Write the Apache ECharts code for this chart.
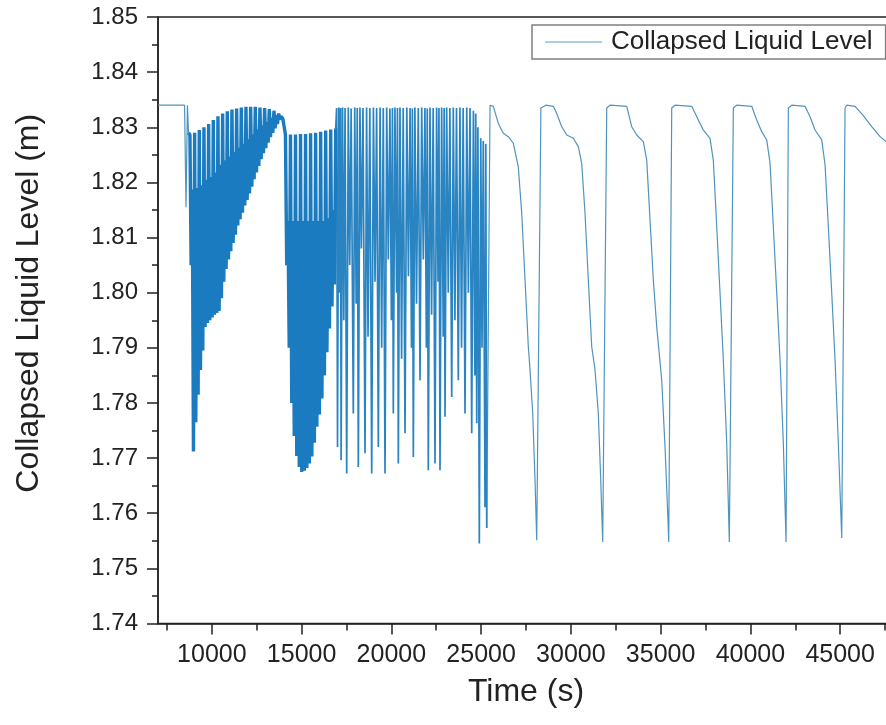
<!DOCTYPE html>
<html><head><meta charset="utf-8">
<script src="https://cdn.jsdelivr.net/npm/echarts@6/dist/echarts.min.js"></script>
<style>html,body{margin:0;padding:0;background:#fff}#c{width:886px;height:725px}</style>
</head><body><div id="c"></div>
<script>
// ---- data (time in s, level in m) ----
const startTime = [7000, 8480, 8560, 8640];
const startLevel = [1.8340, 1.8340, 1.8155, 1.8340];

// where the flat start hands over to the first dense band
const joint0Time = [8700];
const joint0Level = [1.8290];

const band1Time = [8780,8845,8910,8975,9040,9105,9170,9235,9300,9365,9430,9495,9560,9625,9690,9755,9820,9885,9950,10015,
10080,10145,10210,10275,10340,10405,10470,10535,10600,10665,10730,10795,10860,10925,10990,11055,11120,11185,11250,11315,
11380,11445,11510,11575,11640,11705,11770,11835,11900,11965,12030,12095,12160,12225,12290,12355,12420,12485,12550,12615,
12680,12745,12810,12875,12940,13005,13070,13135,13200,13265,13330,13395,13460,13525,13590,13655,13720,13785,13850];
const band1Level = [1.8286,1.8050,1.8187,1.7712,1.8290,1.7765,1.8190,1.7815,1.8295,1.7860,1.8195,1.7895,1.8300,1.7938,1.8205,1.7945,1.8306,1.7950,1.8210,1.7955,
1.8313,1.7960,1.8218,1.7963,1.8320,1.7967,1.8232,1.7990,1.8325,1.8020,1.8240,1.8043,1.8329,1.8060,1.8247,1.8075,1.8332,1.8090,1.8255,1.8105,
1.8334,1.8122,1.8263,1.8133,1.8336,1.8145,1.8270,1.8158,1.8337,1.8168,1.8278,1.8180,1.8337,1.8192,1.8287,1.8206,1.8337,1.8218,1.8296,1.8230,
1.8336,1.8242,1.8303,1.8253,1.8335,1.8262,1.8310,1.8272,1.8333,1.8282,1.8317,1.8290,1.8330,1.8298,1.8322,1.8306,1.8325,1.8314,1.8320];

const bridgeTime = [13950];
const bridgeLevel = [1.8316];

const band2Time = [14100,14170,14240,14310,14380,14450,14520,14590,14660,14730,14800,14870,14940,15010,15080,15150,15220,15290,15360,15430,
15500,15570,15640,15710,15780,15850,15920,15990,16060,16130,16200,16270,16340,16410,16480,16550,16620,16690,16760,16830];
const band2Level = [1.8287,1.8050,1.8130,1.7900,1.8287,1.7800,1.8130,1.7740,1.8287,1.7704,1.8130,1.7684,1.8288,1.7675,1.8130,1.7677,1.8288,1.7682,1.8130,1.7690,
1.8289,1.7703,1.8130,1.7728,1.8290,1.7757,1.8130,1.7779,1.8292,1.7808,1.8130,1.7850,1.8294,1.7892,1.8135,1.7935,1.8296,1.7975,1.8150,1.8015];

// where the banded part hands over to the spiky part
const joint1Time = [16900];
const joint1Level = [1.8298];

const spikeTime = [16950,17000,17070,17120,17170,17200,17280,17350,17420,17512,17600,17680,17760,17880,17960,18040,18100,18159,18250,18330,
18420,18532,18620,18700,18800,18905,19000,19090,19180,19273,19370,19460,19550,19646,19740,19830,19920,20000,20060,20108,
20200,20290,20340,20387,20480,20570,20660,20760,20860,20950,21040,21120,21170,21223,21310,21400,21500,21596,21690,21780,
21870,21950,22000,22058,22150,22240,22330,22431,22520,22600,22650,22710,22800,22890,22940,22989,23080,23170,23260,23362,
23450,23540,23630,23729,23820,23910,24000,24103,24200,24290,24380,24476,24570,24650,24700,24755,24820,24900,24980,25050,
25120,25217,25260];
const spikeLevel = [1.8335,1.7720,1.8336,1.8000,1.8335,1.7696,1.8336,1.7950,1.8335,1.7672,1.8336,1.8050,1.8334,1.7781,1.8336,1.7980,1.8335,1.7684,1.8336,1.8080,
1.8335,1.7709,1.8336,1.7920,1.8335,1.7672,1.8336,1.8020,1.8335,1.7720,1.8336,1.7900,1.8335,1.7672,1.8336,1.8060,1.8334,1.7950,1.8335,1.7781,
1.8336,1.8000,1.8335,1.7690,1.8336,1.7880,1.8335,1.7745,1.8336,1.8030,1.8335,1.7900,1.8334,1.7702,1.8336,1.7980,1.8335,1.7841,1.8336,1.8060,
1.8335,1.7900,1.8334,1.7678,1.8336,1.7960,1.8335,1.7690,1.8336,1.8020,1.8335,1.7678,1.8336,1.7920,1.8335,1.7775,1.8336,1.8000,1.8335,1.7811,
1.8336,1.7950,1.8335,1.7841,1.8336,1.7900,1.8335,1.7781,1.8336,1.8000,1.8335,1.7745,1.8330,1.7850,1.8325,1.7763,1.8300,1.7545,1.8280,1.7900,
1.8275,1.7611,1.8270];

// the last deep dip, where the spiky record turns into the regular cycles
const joint2Time = [25312];
const joint2Level = [1.7573];

const cycleTime = [25496,25680,25958,26237,26515,26794,27072,27262,27446,27630,27724,27874,28003,28097,28200,
28330,28615,29022,29212,29490,29769,30137,30415,30604,30788,30972,31161,31345,31529,31663,31774,31847,
31997,32181,33111,33390,33669,34036,34226,34409,34593,34783,35061,35245,35395,35451,
35618,35802,36732,37100,37379,37752,37936,38125,38309,38493,38682,38827,
39050,39239,40075,40353,40632,40910,41095,41278,41468,41652,41835,41986,
42114,42304,43044,43323,43601,43974,44159,44342,44532,44716,44899,45089,
45273,45367,45830,46292,46760,47222,47557,48000];
const cycleLevel = [1.8340,1.8338,1.8307,1.8289,1.8283,1.8271,1.8228,1.8144,1.8023,1.7902,1.7860,1.7781,1.7660,1.7551,1.7552,
1.8335,1.8340,1.8338,1.8325,1.8301,1.8286,1.8280,1.8265,1.8234,1.8144,1.8023,1.7902,1.7860,1.7781,1.7660,1.7548,1.7550,
1.8335,1.8340,1.8338,1.8301,1.8286,1.8274,1.8240,1.8132,1.8023,1.7938,1.7841,1.7720,1.7599,1.7548,
1.8335,1.8340,1.8338,1.8313,1.8295,1.8280,1.8240,1.8120,1.7999,1.7878,1.7727,1.7548,
1.8335,1.8340,1.8338,1.8313,1.8292,1.8277,1.8235,1.8120,1.7999,1.7878,1.7727,1.7548,
1.8335,1.8340,1.8338,1.8319,1.8295,1.8277,1.8232,1.8120,1.7999,1.7878,1.7727,1.7555,
1.8335,1.8340,1.8338,1.8321,1.8301,1.8283,1.8274,1.8262];

const xMajorTicks = [10000,15000,20000,25000,30000,35000,40000,45000];
const xMinorTicks = [7500,12500,17500,22500,27500,32500,37500,42500,47500];
const seriesName = 'Collapsed Liquid Level';

// ---- build the series ----
function pairs(t, v) { return t.map((x, i) => [x, v[i]]); }
const startData = [].concat(pairs(startTime, startLevel), pairs(joint0Time, joint0Level));
const bandData = [].concat(
  pairs(joint0Time, joint0Level), pairs(band1Time, band1Level), pairs(bridgeTime, bridgeLevel),
  pairs(band2Time, band2Level), pairs(joint1Time, joint1Level)
);
const spikeData = [].concat(pairs(joint1Time, joint1Level), pairs(spikeTime, spikeLevel), pairs(joint2Time, joint2Level));
const cycleData = [].concat(pairs(joint2Time, joint2Level), pairs(cycleTime, cycleLevel));

const FONT = 'Liberation Sans, Arial, sans-serif';
const AX = '#222';

function part(data, width, color, z) {
  return {name: seriesName, type: 'line', data: data, symbol: 'none', showSymbol: false,
          lineStyle: {width: width, color: color, join: 'bevel'}, itemStyle: {color: color}, z: z};
}

const chart = echarts.init(document.getElementById('c'), null, {renderer: 'canvas'});
chart.setOption({
  animation: false,
  backgroundColor: '#fff',
  grid: {left: 158, top: 17, right: -8, bottom: 101.5, show: true, borderColor: AX, borderWidth: 1.5,
         outerBoundsMode: 'none'},
  legend: {
    data: [{name: seriesName, icon: 'rect'}], left: 532, top: 25, padding: [4, 13, 4, 13],
    itemWidth: 57, itemHeight: 1.5, borderColor: '#808080', borderWidth: 1.5, backgroundColor: '#fff',
    itemStyle: {color: '#8fbfd2'},
    textStyle: {fontSize: 26, color: AX, fontFamily: FONT, padding: [0, 0, 0, 4]}
  },
  xAxis: [{
    type: 'value', min: 7000, max: 48000, position: 'bottom',
    axisLine: {show: true, lineStyle: {color: AX, width: 1.5}},
    axisTick: {show: true, customValues: xMajorTicks, length: 11, lineStyle: {color: AX, width: 1.5}},
    axisLabel: {customValues: xMajorTicks, fontSize: 25, color: AX, fontFamily: FONT, margin: 19,
                formatter: v => String(v)},
    splitLine: {show: false},
    name: 'Time (s)', nameLocation: 'middle', nameGap: 53,
    nameTextStyle: {fontSize: 32, color: AX, fontFamily: FONT}
  }, {
    type: 'value', min: 7000, max: 48000, position: 'bottom',
    axisLine: {show: false},
    axisTick: {show: true, customValues: xMinorTicks, length: 7, lineStyle: {color: AX, width: 1.5}},
    axisLabel: {show: false}, splitLine: {show: false}
  }],
  yAxis: {
    type: 'value', min: 1.74, max: 1.85, interval: 0.01,
    axisLine: {show: true, lineStyle: {color: AX, width: 1.5}},
    axisTick: {show: true, length: 11, lineStyle: {color: AX, width: 1.5}},
    minorTick: {show: true, splitNumber: 2, length: 6, lineStyle: {color: AX, width: 1.5}},
    axisLabel: {fontSize: 24, color: AX, fontFamily: FONT, margin: 20, formatter: v => v.toFixed(2)},
    splitLine: {show: false}, minorSplitLine: {show: false},
    name: 'Collapsed Liquid Level (m)', nameLocation: 'middle', nameGap: 113,
    nameTextStyle: {fontSize: 32, color: AX, fontFamily: FONT, padding: [0, 0, 0, 34]}
  },
  series: [
    part(startData, 1.2, '#4f94bd', 1),
    part(bandData, 3.4, '#1a7bc0', 3),
    part(spikeData, 1.7, '#2a84c2', 2),
    part(cycleData, 1.2, '#4f94bd', 1)
  ]
});
</script>
</body></html>
